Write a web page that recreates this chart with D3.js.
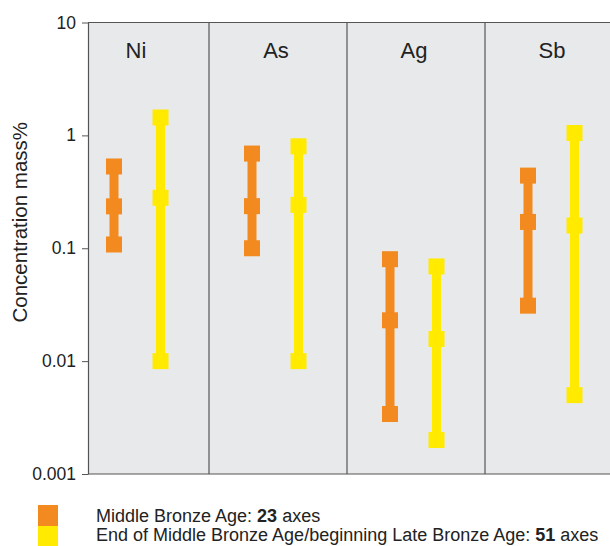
<!DOCTYPE html>
<html lang="en">
<head>
<meta charset="utf-8">
<title>Concentration by period</title>
<script src="https://d3js.org/d3.v7.min.js" charset="utf-8"></script>
<style>
body { margin: 0; background: #fff; }
svg { display: block; font-family: "Liberation Sans", Arial, sans-serif; }
.axis text { font-size: 17.5px; fill: #222; }
.axis path, .axis line { stroke: #555; }
.frame { stroke: #555; stroke-width: 1.2; }
.panel-title { font-size: 22px; fill: #222; text-anchor: middle; }
.legend text { font-size: 18px; fill: #222; }
</style>
</head>
<body>
<script type="text/javascript">

// elements shown in the panels
var elements = ["Ni", "As", "Ag", "Sb"];

// Middle Bronze Age (23 axes): max, middle, min
var mbaMax = [0.53, 0.69, 0.080, 0.44];
var mbaMid = [0.235, 0.236, 0.023, 0.171];
var mbaMin = [0.108, 0.10, 0.0034, 0.031];

// End of Middle / beginning Late Bronze Age (51 axes): max, middle, min
var lbaMax = [1.44, 0.80, 0.069, 1.05];
var lbaMid = [0.28, 0.242, 0.0157, 0.159];
var lbaMin = [0.01, 0.01, 0.002, 0.005];

var tickValues = [10, 1, 0.1, 0.01, 0.001];
var tickLabels = ["10", "1", "0.1", "0.01", "0.001"];

var seriesNames = ["mba", "lba"];
var seriesColors = ["#f28a1f", "#ffea00"];

var width = 610, height = 546;
var plotLeft = 88, plotTop = 22.5, plotBottom = 474;

var svg = d3.select("body")
            .append("svg")
            .attr("width", width)
            .attr("height", height);

// panels are laid out by a band scale, the first one is cut by the y axis
var x = d3.scaleBand()
  .domain(elements)
  .range([71, 623])
  .paddingInner(0)
  .paddingOuter(0);

// position of the two series inside a panel
var xInner = d3.scalePoint()
  .domain(seriesNames)
  .range([43, 89.5]);

var y = d3.scaleLog()
  .domain([0.001, 10])
  .range([plotBottom, plotTop]);

// grey plot background
svg.append("rect")
  .attr("x", plotLeft)
  .attr("y", plotTop)
  .attr("width", width - plotLeft + 20)
  .attr("height", plotBottom - plotTop)
  .attr("fill", "#e8e9eb");

// panel dividers
svg.selectAll(".divider")
  .data(elements.slice(1))
  .enter()
  .append("line")
  .attr("class", "frame")
  .attr("x1", function(d) { return x(d); })
  .attr("x2", function(d) { return x(d); })
  .attr("y1", plotTop)
  .attr("y2", plotBottom);

// top and bottom frame
svg.append("line").attr("class", "frame")
  .attr("x1", plotLeft).attr("x2", width + 5)
  .attr("y1", plotTop).attr("y2", plotTop);
svg.append("line").attr("class", "frame")
  .attr("x1", plotLeft).attr("x2", width + 5)
  .attr("y1", plotBottom).attr("y2", plotBottom);

// y axis
var yAxis = d3.axisLeft(y)
  .tickValues(tickValues)
  .tickFormat(function(d, i) { return tickLabels[i]; })
  .tickSize(6)
  .tickSizeOuter(0)
  .tickPadding(6);

svg.append("g")
  .attr("class", "axis")
  .attr("transform", "translate(" + plotLeft + ",0)")
  .call(yAxis);

svg.select(".axis path").attr("stroke-width", 1.2);

svg.append("text")
  .attr("transform", "translate(27," + (y(0.1) - 26) + ") rotate(-90)")
  .attr("text-anchor", "middle")
  .attr("font-size", "20.5px")
  .attr("fill", "#222")
  .text("Concentration mass%");

// panel titles
svg.selectAll(".panel-title")
  .data(elements)
  .enter()
  .append("text")
  .attr("class", "panel-title")
  .attr("x", function(d, i) { return x(d) + x.bandwidth() / 2 - (i === 0 ? 4 : 2); })
  .attr("y", 58)
  .text(function(d) { return d; });

// build rows for the range bars
var rows = [];
elements.forEach(function(el, i) {
  rows.push({ el: el, s: "mba", color: seriesColors[0], max: mbaMax[i], mid: mbaMid[i], min: mbaMin[i] });
  rows.push({ el: el, s: "lba", color: seriesColors[1], max: lbaMax[i], mid: lbaMid[i], min: lbaMin[i] });
});

function cx(d) { return x(d.el) + xInner(d.s); }

var bars = svg.selectAll(".range")
  .data(rows)
  .enter()
  .append("g")
  .attr("class", "range");

bars.append("line")
  .attr("x1", cx)
  .attr("x2", cx)
  .attr("y1", function(d) { return y(d.max); })
  .attr("y2", function(d) { return y(d.min); })
  .attr("stroke", function(d) { return d.color; })
  .attr("stroke-width", 9);

var sq = 16;
["max", "mid", "min"].forEach(function(k) {
  bars.append("rect")
    .attr("x", function(d) { return cx(d) - sq / 2; })
    .attr("y", function(d) { return y(d[k]) - sq / 2; })
    .attr("width", sq)
    .attr("height", sq)
    .attr("fill", function(d) { return d.color; });
});

// legend
var legend = svg.append("g").attr("class", "legend");
var legendItems = [
  { color: seriesColors[0], pre: "Middle Bronze Age: ", num: "23", post: " axes" },
  { color: seriesColors[1], pre: "End of Middle Bronze Age/beginning Late Bronze Age: ", num: "51", post: " axes" }
];

legendItems.forEach(function(d, i) {
  legend.append("rect")
    .attr("x", 38)
    .attr("y", 505 + i * 21)
    .attr("width", 20)
    .attr("height", 21)
    .attr("fill", d.color);
  var t = legend.append("text")
    .attr("x", 96)
    .attr("y", 522 + i * 19);
  t.append("tspan").text(d.pre);
  t.append("tspan").attr("font-weight", "bold").text(d.num);
  t.append("tspan").text(d.post);
});

</script>
</body>
</html>
